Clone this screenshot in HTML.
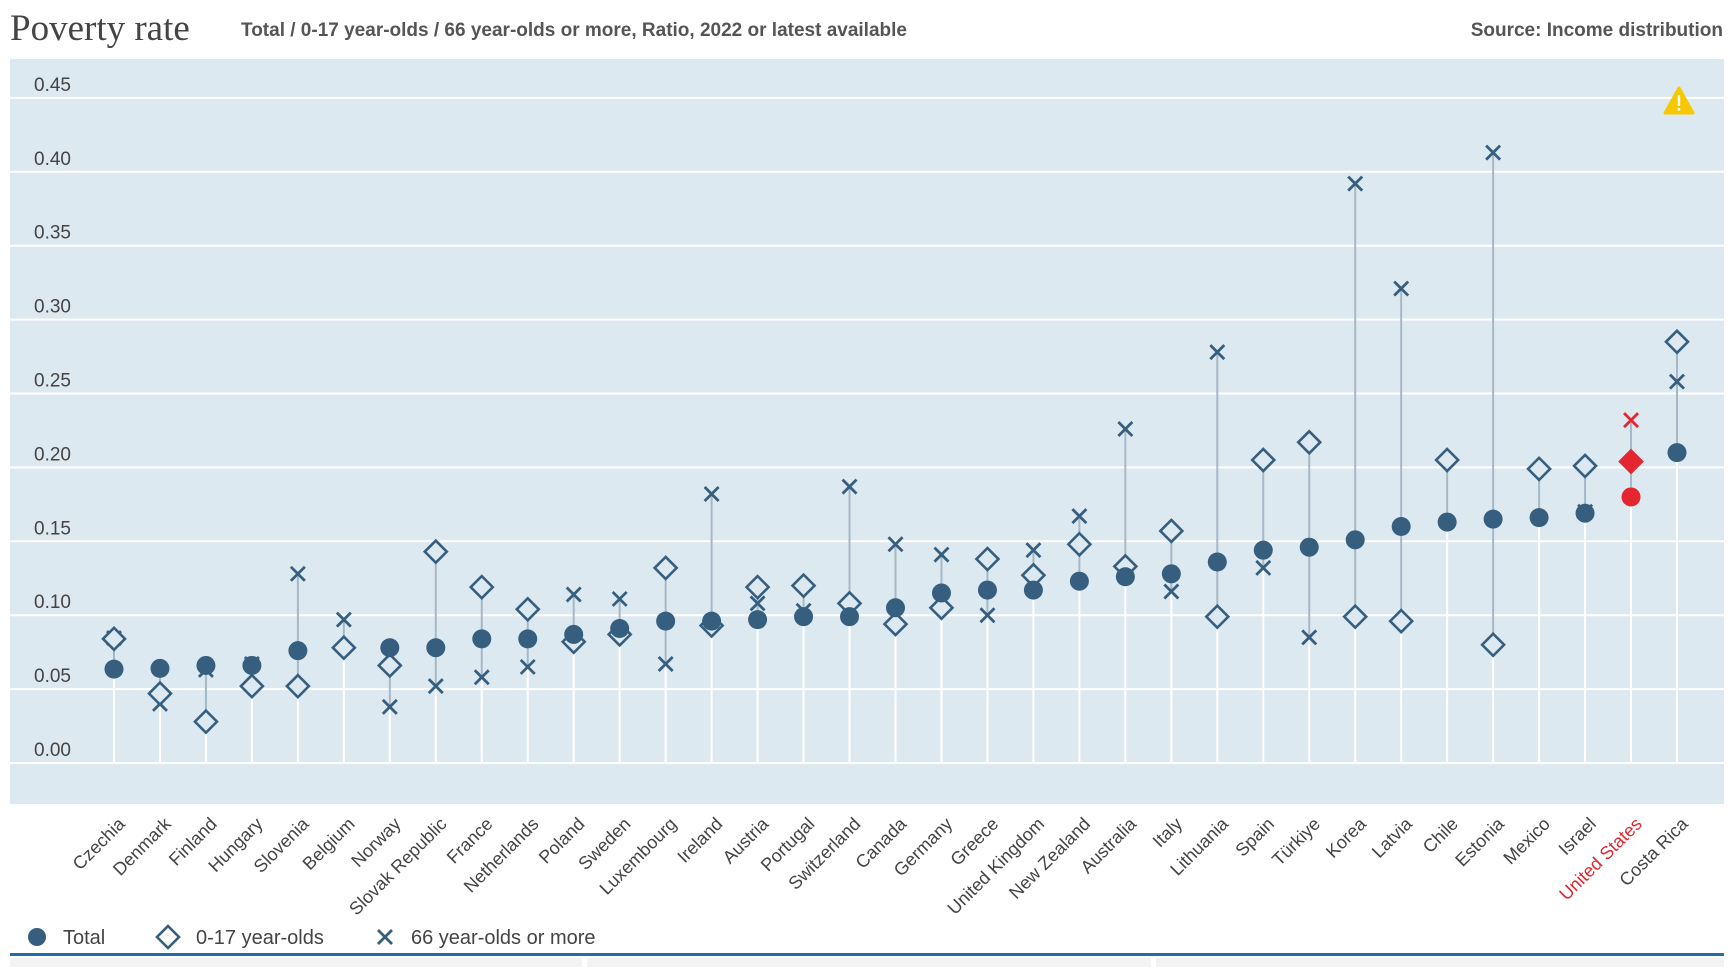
<!DOCTYPE html>
<html><head><meta charset="utf-8">
<style>
html,body{margin:0;padding:0;background:#fff;}
body{width:1734px;height:967px;overflow:hidden;font-family:"Liberation Sans",sans-serif;}
svg text{font-family:"Liberation Sans",sans-serif;}
</style></head>
<body>
<svg id="chart" width="1734" height="967" xmlns="http://www.w3.org/2000/svg">
  <text x="10" y="40" style="font-family:'Liberation Serif',serif" font-size="37" fill="#444">Poverty rate</text>
  <text x="241" y="36" font-size="19" font-weight="bold" fill="#555">Total / 0-17 year-olds / 66 year-olds or more, Ratio, 2022 or latest available</text>
  <text x="1723" y="36" text-anchor="end" font-size="19" font-weight="bold" fill="#555">Source: Income distribution</text>
  <rect x="10" y="59" width="1714" height="745" fill="#dde9f1"/>
  <g id="grid"></g>
  <g id="stems"></g>
  <g id="marks"></g>
  <g id="xlabels"></g>
  <g>
    <path d="M1679,88 L1693,113 L1665,113 Z" fill="#f7c800" stroke="#f7c800" stroke-width="3" stroke-linejoin="round"/>
    <rect x="1677.8" y="95" width="2.4" height="11" fill="#fff"/>
    <rect x="1677.8" y="108" width="2.4" height="2.6" fill="#fff"/>
  </g>
  <g>
    <g>
      <circle cx="37" cy="937" r="9" fill="#365e7e"/>
      <text x="63" y="944" font-size="20" fill="#444">Total</text>
    </g>
    <g>
      <path d="M168,926 L179,937 L168,948 L157,937 Z" fill="none" stroke="#365e7e" stroke-width="2.6"/>
      <text x="196" y="944" font-size="20" fill="#444">0-17 year-olds</text>
    </g>
    <g>
      <path d="M378,930 L392,944 M392,930 L378,944" stroke="#365e7e" stroke-width="2.8"/>
      <text x="411" y="944" font-size="20" fill="#444">66 year-olds or more</text>
    </g>
  </g>
  <rect x="10" y="953" width="1714" height="3" fill="#1f6ea8"/>
  <rect x="10" y="958" width="572" height="9" fill="#f3f3f3"/>
  <rect x="587" y="958" width="564" height="9" fill="#f3f3f3"/>
  <rect x="1156" y="958" width="568" height="9" fill="#f3f3f3"/>
</svg>
<script>
const countries = ["Czechia","Denmark","Finland","Hungary","Slovenia","Belgium","Norway","Slovak Republic","France","Netherlands","Poland","Sweden","Luxembourg","Ireland","Austria","Portugal","Switzerland","Canada","Germany","Greece","United Kingdom","New Zealand","Australia","Italy","Lithuania","Spain","Türkiye","Korea","Latvia","Chile","Estonia","Mexico","Israel","United States","Costa Rica"];
const totalValues = [0.0635,0.064,0.066,0.066,0.076,null,0.078,0.078,0.084,0.084,0.087,0.091,0.096,0.096,0.097,0.099,0.099,0.105,0.115,0.117,0.117,0.123,0.126,0.128,0.136,0.144,0.146,0.151,0.160,0.163,0.165,0.166,0.169,0.180,0.210];
const childValues = [0.084,0.047,0.028,0.052,0.052,0.078,0.066,0.143,0.119,0.104,0.082,0.087,0.132,0.093,0.119,0.120,0.108,0.094,0.105,0.138,0.127,0.148,0.133,0.157,0.099,0.205,0.217,0.099,0.096,0.205,0.080,0.199,0.201,0.204,0.285];
const elderlyValues = [0.0845,0.040,0.063,0.067,0.128,0.097,0.038,0.052,0.058,0.065,0.114,0.111,0.067,0.182,0.108,0.103,0.187,0.148,0.141,0.100,0.144,0.167,0.226,0.116,0.278,0.132,0.085,0.392,0.321,null,0.413,null,0.170,0.232,0.258];
const yTicks = [0,0.05,0.10,0.15,0.20,0.25,0.30,0.35,0.40,0.45];
const highlight = "United States";

const NS = "http://www.w3.org/2000/svg";
const x = i => 114 + i * (1677 - 114) / (countries.length - 1);
const y = v => 763 - v * 1478;
function mk(tag, attrs, parent){ const e=document.createElementNS(NS,tag); for(const k in attrs) e.setAttribute(k,attrs[k]); parent.appendChild(e); return e; }
const grid=document.getElementById('grid'), stems=document.getElementById('stems'), marks=document.getElementById('marks'), xl=document.getElementById('xlabels');

yTicks.forEach(t=>{
  const l=mk('line',{x1:10,x2:1724,y1:y(t),y2:y(t),stroke:'#fff','stroke-width':2},grid);
  
  
  const tx=mk('text',{x:34,y:y(t)-7,'font-size':19,fill:'#444'},grid);
  tx.textContent=t.toFixed(2);
  
  
});

countries.forEach((c,i)=>{
  const cx=x(i);
  const hl = c===highlight;
  const col = hl ? '#e3262f' : '#365e7e';
  const vals=[totalValues[i],childValues[i],elderlyValues[i]].filter(v=>v!==null);
  const mn=Math.min(...vals), mx=Math.max(...vals);
  const w=mk('line',{x1:cx,x2:cx,y1:763,y2:y(mn),stroke:'#fff','stroke-width':2},stems);
  
  
  const g=mk('line',{x1:cx,x2:cx,y1:y(mn),y2:y(mx),stroke:'#a6b8c6','stroke-width':2},stems);
  
  
  if(elderlyValues[i]!==null){
    const yy=y(elderlyValues[i]);
    const p=mk('path',{d:`M${cx-7},${yy-7} L${cx+7},${yy+7} M${cx+7},${yy-7} L${cx-7},${yy+7}`,stroke:col,'stroke-width':2.8},marks);
    
    
  }
  if(childValues[i]!==null){
    const yy=y(childValues[i]);
    const p=mk('path',{d:`M${cx},${yy-11} L${cx+11},${yy} L${cx},${yy+11} L${cx-11},${yy} Z`,fill:hl?col:'#dde9f1',stroke:col,'stroke-width':2.6},marks);
    
    
  }
  if(totalValues[i]!==null){
    const p=mk('circle',{cx:cx,cy:y(totalValues[i]),r:9.5,fill:col},marks);
    
    
  }
  const t=mk('text',{x:0,y:0,'text-anchor':'end','font-size':18,fill:hl?'#e3262f':'#444',transform:`translate(${cx+12},${825}) rotate(-45)`},xl);
  t.textContent=c;
  
  
});
</script>
</body></html>
